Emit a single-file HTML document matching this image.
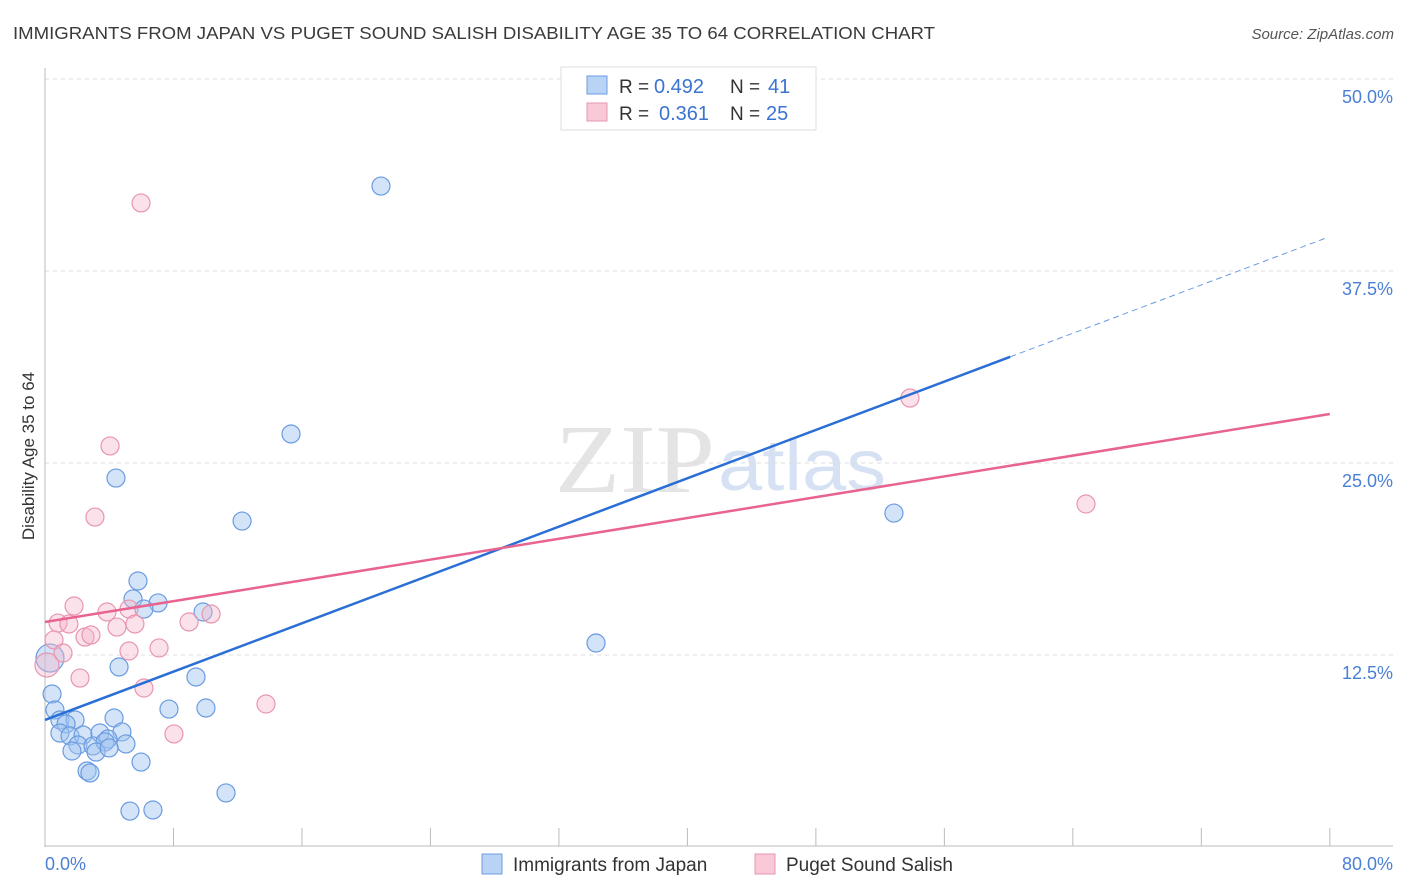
<!DOCTYPE html>
<html><head><meta charset="utf-8"><style>
body{margin:0;background:#fff;font-family:"Liberation Sans",sans-serif}
</style></head><body>
<svg id="c" width="1406" height="892" style="display:block">
<text x="13" y="39" font-size="17.5" fill="#3a3a3a" textLength="922" lengthAdjust="spacingAndGlyphs">IMMIGRANTS FROM JAPAN VS PUGET SOUND SALISH DISABILITY AGE 35 TO 64 CORRELATION CHART</text>
<text x="1394" y="39" font-size="15" fill="#555" font-style="italic" text-anchor="end">Source: ZipAtlas.com</text>
<text x="555" y="492" font-size="98" fill="#e4e4e4" textLength="160" lengthAdjust="spacingAndGlyphs" font-family="Liberation Serif,serif">ZIP</text>
<text x="718" y="490" font-size="72" fill="#d6e2f3" textLength="168" lengthAdjust="spacingAndGlyphs">atlas</text>
<text transform="translate(34,456) rotate(-90)" font-size="17" fill="#333" text-anchor="middle">Disability Age 35 to 64</text>
<g id="grid"></g><g id="marks"></g>
<g>
<rect x="561" y="67" width="255" height="63" fill="#fff" stroke="#ddd"/>
<rect x="587" y="76" width="20" height="18" fill="#b9d3f5" stroke="#6a9be0"/>
<rect x="587" y="103" width="20" height="18" fill="#f9c9d7" stroke="#e896b0"/>
<text x="619" y="93" font-size="19" fill="#333">R =</text>
<text x="654" y="93" font-size="20" fill="#3a73d0">0.492</text>
<text x="730" y="93" font-size="19" fill="#333">N =</text>
<text x="768" y="93" font-size="20" fill="#3a73d0">41</text>
<text x="619" y="120" font-size="19" fill="#333">R =</text>
<text x="659" y="120" font-size="20" fill="#3a73d0">0.361</text>
<text x="730" y="120" font-size="19" fill="#333">N =</text>
<text x="766" y="120" font-size="20" fill="#3a73d0">25</text>
</g>
<g>
<rect x="482" y="854" width="20" height="20" fill="#b9d3f5" stroke="#6a9be0"/>
<text x="513" y="871" font-size="19" fill="#333">Immigrants from Japan</text>
<rect x="755" y="854" width="20" height="20" fill="#f9c9d7" stroke="#e896b0"/>
<text x="786" y="871" font-size="19" fill="#333">Puget Sound Salish</text>
</g>
</svg>
<script>
const yTicks=[12.5,25,37.5,50];
const yTickLabels=["12.5%","25.0%","37.5%","50.0%"];
const xTickLabels=["0.0%","80.0%"];
const japanX=[20.92,15.32,4.42,12.27,52.86,34.31,5.79,5.48,7.04,6.16,9.84,4.61,9.40,0.44,7.72,10.02,0.62,0.93,1.87,4.30,1.31,0.93,1.56,2.37,4.79,3.42,3.92,2.05,2.99,3.74,5.04,1.68,3.18,3.99,5.98,2.62,2.80,11.27,5.29,6.72,0.31];
const japanY=[43.03,26.89,24.02,21.22,21.74,13.28,17.32,16.15,15.89,15.49,15.30,11.72,11.07,9.96,8.98,9.05,8.92,8.27,8.27,8.40,8.01,7.42,7.23,7.29,7.49,7.42,7.03,6.64,6.58,6.84,6.71,6.25,6.18,6.45,5.53,4.95,4.82,3.52,2.34,2.41,12.30];
const salishX=[5.98,4.05,3.11,53.86,64.82,1.81,3.86,5.23,10.34,0.81,1.49,4.48,5.60,8.97,2.49,2.86,0.56,7.10,5.23,1.12,2.18,6.16,13.76,8.03,0.12];
const salishY=[41.93,26.11,21.48,29.23,22.33,15.69,15.30,15.49,15.17,14.58,14.52,14.32,14.52,14.65,13.67,13.80,13.48,12.96,12.76,12.63,11.00,10.35,9.31,7.36,11.85];
const japanTrend=[8.27,39.74];const japanSolidEnd=60.1;
const salishTrend=[14.65,28.19];
const X=v=>45+v*16.06, Y=v=>847-v*15.36;
const NS="http://www.w3.org/2000/svg";
function mk(t,a,p){const e=document.createElementNS(NS,t);for(const k in a)e.setAttribute(k,a[k]);p.appendChild(e);return e;}
const g=document.getElementById('grid'),m=document.getElementById('marks');
const top0=mk('line',{x1:45,x2:1393,y1:79,y2:79,stroke:'#ddd','stroke-dasharray':'4,4'},g);


yTicks.forEach((t,i)=>{
 const l=mk('line',{x1:45,x2:1393,y1:Y(t),y2:Y(t),stroke:'#ddd','stroke-dasharray':'4,4'},g);
 
 
 const tx=mk('text',{x:1393,y:Y(t)+24,'font-size':18,fill:'#4a7fd4','text-anchor':'end'},g);tx.textContent=yTickLabels[i];
 
 
});
const ax=mk('line',{x1:45,x2:45,y1:68,y2:847,stroke:'#bbb'},g);


const bx=mk('line',{x1:45,x2:1393,y1:846,y2:846,stroke:'#bbb'},g);


for(let i=0;i<=10;i++){const t=mk('line',{x1:X(i*8),x2:X(i*8),y1:828,y2:846,stroke:'#bbb'},g);
 
 }
const xl0=mk('text',{x:45,y:870,'font-size':18,fill:'#4a7fd4'},g);xl0.textContent=xTickLabels[0];


const xl1=mk('text',{x:1393,y:870,'font-size':18,fill:'#4a7fd4','text-anchor':'end'},g);xl1.textContent=xTickLabels[1];


japanX.forEach((x,i)=>{const c=mk('circle',{cx:X(x),cy:Y(japanY[i]),r:i==japanX.length-1?14:9,fill:'rgba(160,195,240,0.45)',stroke:'#6a9be0','stroke-width':1.2},m);
 
 });
salishX.forEach((x,i)=>{const c=mk('circle',{cx:X(x),cy:Y(salishY[i]),r:i==salishX.length-1?12:9,fill:'rgba(245,180,200,0.4)',stroke:'#e896b0','stroke-width':1.2},m);
 
 });
const jy=x=>japanTrend[0]+(japanTrend[1]-japanTrend[0])*x/80;
const l1=mk('line',{x1:X(0),y1:Y(jy(0)),x2:X(japanSolidEnd),y2:Y(jy(japanSolidEnd)),stroke:'#2a6fd6','stroke-width':2.5},m);


const l2=mk('line',{x1:X(japanSolidEnd),y1:Y(jy(japanSolidEnd)),x2:X(79.7),y2:Y(jy(79.7)),stroke:'#6a9be0','stroke-width':1,'stroke-dasharray':'6,4'},m);


const l3=mk('line',{x1:X(0),y1:Y(salishTrend[0]),x2:X(80),y2:Y(salishTrend[1]),stroke:'#e8638f','stroke-width':2.5},m);


</script>
</body></html>
